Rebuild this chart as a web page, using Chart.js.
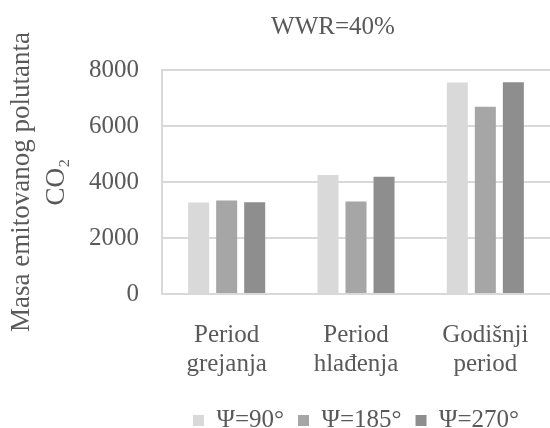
<!DOCTYPE html>
<html>
<head>
<meta charset="utf-8">
<script src="https://cdn.jsdelivr.net/npm/chart.js@4"></script>
<style>
  html, body { margin: 0; padding: 0; background: #ffffff; }
  #wrap { width: 550px; height: 428px; position: relative; }
</style>
</head>
<body>
<div id="wrap"><canvas id="myChart"></canvas></div>
<script>
// chart data
var categories = [['Period', 'grejanja'], ['Period', 'hlađenja'], ['Godišnji', 'period']];
var seriesNames = ['Ψ=90°', 'Ψ=185°', 'Ψ=270°'];
var psi90 = [3270, 4250, 7550];
var psi185 = [3340, 3300, 6690];
var psi270 = [3280, 4190, 7560];
var yTicks = [0, 2000, 4000, 6000, 8000];
var chartTitle = 'WWR=40%';
var yTitle = ['Masa emitovanog polutanta', 'CO₂'];

var barColors = ['#d9d9d9', '#a6a6a6', '#8e8e8e'];
var textColor = '#595959';
var serif = "'Liberation Serif', serif";

// title drawn over the plot, a bit left of its centre like the original
var titlePlugin = {
    id: 'wwrTitle',
    afterDraw: function (chart) {
        var ctx = chart.ctx;
        ctx.save();
        ctx.font = '25px ' + serif;
        ctx.fillStyle = textColor;
        ctx.textAlign = 'center';
        ctx.textBaseline = 'middle';
        ctx.fillText(chartTitle, 333, 27);
        ctx.restore();
    }
};

var allSeries = [psi90, psi185, psi270];
var datasets = allSeries.map(function (vals, i) {
    return {
        label: seriesNames[i],
        data: vals,
        backgroundColor: barColors[i],
        borderWidth: 0,
        barPercentage: 0.75,
        categoryPercentage: 0.65
    };
});

var ctx = document.getElementById('myChart').getContext('2d');
var myChart = new Chart(ctx, {
    type: 'bar',
    data: {
        labels: categories,
        datasets: datasets
    },
    plugins: [titlePlugin],
    options: {
        responsive: true,
        maintainAspectRatio: false,
        animation: false,
        layout: {
            padding: { top: 70, right: 0, bottom: -15, left: 0 }
        },
        plugins: {
            title: { display: false },
            tooltip: { enabled: false },
            legend: {
                display: true,
                position: 'bottom',
                fullSize: false,
                labels: {
                    color: textColor,
                    boxWidth: 11,
                    boxHeight: 11,
                    padding: 14,
                    font: { family: serif, size: 25 }
                }
            }
        },
        scales: {
            x: {
                grid: { display: false },
                border: { display: true, color: '#d9d9d9', width: 2 },
                ticks: {
                    color: textColor,
                    padding: 19,
                    maxRotation: 0,
                    autoSkip: false,
                    font: { family: serif, size: 25, lineHeight: 1.16 }
                },
                afterFit: function (scale) { scale.height = 100; }
            },
            y: {
                min: 0,
                max: 8000,
                afterBuildTicks: function (scale) {
                    scale.ticks = yTicks.map(function (v) { return { value: v }; });
                },
                grid: { color: '#d9d9d9', lineWidth: 2, drawTicks: false },
                border: { display: true, color: '#d9d9d9', width: 2 },
                ticks: {
                    color: textColor,
                    padding: 23,
                    font: { family: serif, size: 25 },
                    callback: function (value) { return String(value); }
                },
                title: {
                    display: true,
                    text: yTitle,
                    color: textColor,
                    padding: { top: 4, bottom: 0 },
                    font: { family: serif, size: 27, lineHeight: 1.3 }
                },
                afterFit: function (scale) { scale.width = 162; }
            }
        }
    }
});
</script>
</body>
</html>
